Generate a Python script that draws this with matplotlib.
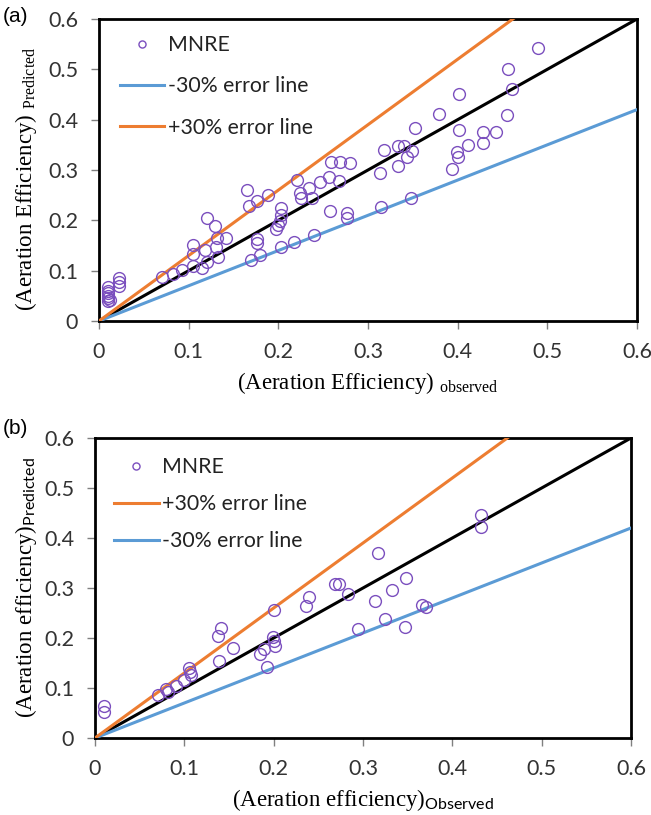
import matplotlib
matplotlib.use("Agg")
import matplotlib.pyplot as plt
import numpy as np

plt.rcParams['mathtext.fontset'] = 'custom'
plt.rcParams['mathtext.rm'] = 'Liberation Serif'
plt.rcParams['mathtext.sf'] = 'Lato'

# ---------------- data: panel (a) ----------------
a_obs = [0.010, 0.010, 0.010, 0.010, 0.010, 0.012, 0.010,
         0.022, 0.022, 0.022,
         0.070, 0.082, 0.093, 0.105, 0.115, 0.105, 0.105, 0.118, 0.120, 0.130,
         0.132, 0.133, 0.120, 0.129, 0.142, 0.165, 0.167, 0.176, 0.188, 0.169,
         0.176, 0.176, 0.180, 0.197, 0.200, 0.202, 0.203, 0.203, 0.203, 0.217,
         0.2205, 0.224, 0.225, 0.234, 0.238, 0.240, 0.247, 0.257, 0.258, 0.259,
         0.269, 0.280, 0.268, 0.277, 0.277, 0.314, 0.348, 0.313, 0.318, 0.333,
         0.340, 0.333, 0.344, 0.349, 0.352, 0.379, 0.401, 0.401, 0.399, 0.400,
         0.394, 0.411, 0.428, 0.428, 0.443, 0.456, 0.461, 0.455, 0.490]
a_pred = [0.068, 0.060, 0.055, 0.050, 0.045, 0.042, 0.040,
          0.085, 0.078, 0.070,
          0.087, 0.093, 0.102, 0.110, 0.106, 0.150, 0.134, 0.142, 0.118, 0.148,
          0.165, 0.128, 0.204, 0.188, 0.165, 0.260, 0.228, 0.238, 0.250, 0.122,
          0.162, 0.154, 0.132, 0.182, 0.190, 0.198, 0.210, 0.225, 0.147, 0.156,
          0.280, 0.255, 0.245, 0.265, 0.245, 0.170, 0.276, 0.287, 0.218, 0.316,
          0.315, 0.313, 0.278, 0.215, 0.205, 0.227, 0.245, 0.295, 0.339, 0.348,
          0.347, 0.308, 0.326, 0.338, 0.383, 0.411, 0.450, 0.380, 0.335, 0.325,
          0.301, 0.349, 0.376, 0.353, 0.376, 0.500, 0.461, 0.409, 0.543]

# ---------------- data: panel (b) ----------------
b_obs = [0.010, 0.010, 0.071, 0.080, 0.082, 0.091, 0.100, 0.105, 0.106, 0.107,
         0.139, 0.138, 0.141, 0.154, 0.185, 0.189, 0.193, 0.199, 0.201, 0.200,
         0.200, 0.236, 0.239, 0.2685, 0.2735, 0.283, 0.432, 0.432, 0.317, 0.3135,
         0.332, 0.348, 0.325, 0.294, 0.347, 0.366, 0.371]
b_pred = [0.065, 0.053, 0.087, 0.098, 0.093, 0.105, 0.117, 0.140, 0.133, 0.126,
          0.155, 0.205, 0.221, 0.180, 0.169, 0.178, 0.142, 0.202, 0.185, 0.195,
          0.257, 0.265, 0.283, 0.309, 0.309, 0.289, 0.447, 0.422, 0.370, 0.275,
          0.297, 0.320, 0.239, 0.219, 0.222, 0.267, 0.262]

ticks = [0, 0.1, 0.2, 0.3, 0.4, 0.5, 0.6]
tick_labels = ['0', '0.1', '0.2', '0.3', '0.4', '0.5', '0.6']
line_x = [0, 0.6]
err = 0.30

PURPLE = '#7B4FBE'
ORANGE = '#ED7D31'
BLUE = '#5B9BD5'

fig = plt.figure(figsize=(6.51, 8.15), dpi=100)
ax_a = fig.add_axes([99/651, 1-321/815, 538/651, 302/815])
ax_b = fig.add_axes([95/651, 1-738/815, 536/651, 300/815])


def style(ax):
    ax.set_xlim(0, 0.6)
    ax.set_ylim(0, 0.6)
    ax.set_xticks(ticks)
    ax.set_yticks(ticks)
    ax.set_xticklabels(tick_labels, family='Lato', fontsize=15.5, color='#333333')
    ax.set_yticklabels(tick_labels, family='Lato', fontsize=15.5, color='#333333')
    ax.tick_params(direction='out', length=6, width=1, color='#808080', pad=9)
    for s in ax.spines.values():
        s.set_linewidth(2)
        s.set_color('black')


def draw(ax, obs, pred, order, lspace, anchor):
    lx = np.array(line_x)
    h_pts, = ax.plot(obs, pred, 'o', mfc='none', mec=PURPLE, ms=8.5, mew=1.0,
                     label='MNRE', zorder=5, clip_on=False)
    ax.plot(lx, lx, color='black', lw=2.2, zorder=3)
    h_m, = ax.plot(lx, lx * (1 - err), color=BLUE, lw=2.2, label='-30% error line', zorder=3)
    h_p, = ax.plot(lx, lx * (1 + err), color=ORANGE, lw=2.2, label='+30% error line', zorder=3)
    hs = {'pts': h_pts, 'm': h_m, 'p': h_p}
    handles = [hs[k] for k in order]
    leg = ax.legend(handles, [h.get_label() for h in handles], loc='upper left',
                    bbox_to_anchor=anchor, frameon=False,
                    prop={'family': 'Lato', 'size': 15.3}, handlelength=2.1,
                    handletextpad=0.15, labelspacing=lspace, markerscale=0.6)
    for t in leg.get_texts():
        t.set_color('#222222')


draw(ax_a, a_obs, a_pred, ['pts', 'm', 'p'], 1.0, (0.003, 1.01))
draw(ax_b, b_obs, b_pred, ['pts', 'p', 'm'], 0.8, (0.0, 1.0))
style(ax_a)
style(ax_b)

ax_a.set_xlabel(r'(Aeration Efficiency) $_{\mathrm{observed}}$', family='Liberation Serif',
                fontsize=16.5, labelpad=6)
ax_a.set_ylabel(r'(Aeration Efficiency) $_{\mathrm{Predicted}}$', family='Liberation Serif',
                fontsize=16.5)
ax_a.yaxis.set_label_coords(-0.112, 0.47)

ax_b.set_xlabel(r'(Aeration efficiency)$_{\mathsf{Observed}}$', family='Liberation Serif',
                fontsize=16.5, labelpad=6)
ax_b.set_ylabel(r'(Aeration efficiency)$_{\mathsf{Predicted}}$', family='Liberation Serif',
                fontsize=16.5)
ax_b.yaxis.set_label_coords(-0.105, 0.5)

fig.text(3/651, 1-16/815, '(a)', family='Liberation Sans', fontsize=15, va='center', ha='left')
fig.text(3/651, 1-428/815, '(b)', family='Liberation Sans', fontsize=15, va='center', ha='left')

fig.savefig('out.png', dpi=100)
